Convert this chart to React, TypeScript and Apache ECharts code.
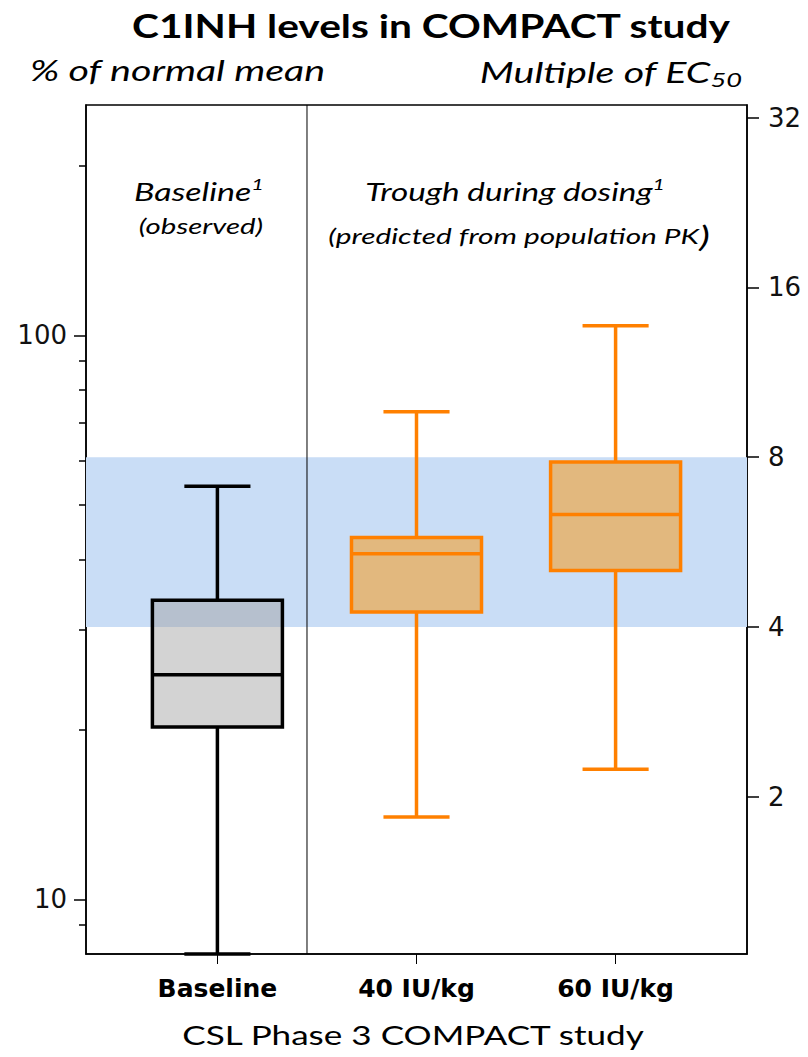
import React, { useEffect, useRef } from "react";
import * as echarts from "echarts";

// ---- data ----
const categories = ["Baseline", "40 IU/kg", "60 IU/kg"];
const categoryPositions = [1, 2, 3];
const whiskerLow = [8.0, 14.0, 17.0];
const boxLow = [20.2, 32.3, 38.3];
const medians = [25.0, 41.0, 48.1];
const boxHigh = [33.9, 43.8, 59.6];
const whiskerHigh = [54.0, 73.2, 104.0];

const leftMajorTicks = [10, 100];
const leftMinorTicks = [9, 20, 30, 40, 50, 60, 70, 80, 90, 200];
const rightTicks = [2, 4, 8, 16, 32];
const ec50Factor = 7.6; // % of normal mean per one multiple of EC50
const targetBandEC50 = [4, 8];
const leftRange = [8, 256];
const xRange = [0.34, 3.66];
const separatorAt = 1.45;

const FONT = "Lato, 'Open Sans', sans-serif";
const NUMFONT = "'DejaVu Sans', 'Open Sans', sans-serif";

function label(
  text: string,
  x: number,
  y: number,
  scaleX: number,
  align: string,
  style: any
) {
  return {
    type: "text",
    x,
    y,
    scaleX,
    style: {
      text,
      x: 0,
      y: 0,
      align,
      verticalAlign: "middle",
      fill: "#000",
      ...style,
    },
  };
}

export default function App() {
  const ref = useRef<HTMLDivElement>(null);

  useEffect(() => {
    if (!ref.current) return;
    const chart = echarts.init(ref.current, null, { renderer: "svg" });

    const boxData = categoryPositions.map((p, i) => [
      p,
      whiskerLow[i],
      boxLow[i],
      medians[i],
      boxHigh[i],
      whiskerHigh[i],
      i,
    ]);

    const supRich = (size: number) => ({
      a: { fontFamily: FONT, fontStyle: "italic", fontSize: size, lineHeight: size + 6 },
      b: {
        fontFamily: FONT,
        fontStyle: "italic",
        fontSize: Math.round(size * 0.64),
        lineHeight: Math.round(size * 0.64),
        verticalAlign: "top",
      },
    });

    const option: any = {
      animation: false,
      backgroundColor: "#fff",
      grid: {
        left: 86,
        right: 61,
        top: 105,
        bottom: 103,
        show: true,
        borderColor: "#000",
        borderWidth: 1.5,
        containLabel: false,
        outerBoundsMode: "none",
      },
      xAxis: {
        type: "value",
        min: xRange[0],
        max: xRange[1],
        splitLine: { show: false },
        axisLine: { show: true, lineStyle: { color: "#000", width: 1.5 } },
        axisTick: {
          show: true,
          customValues: categoryPositions,
          length: 10,
          lineStyle: { color: "#000", width: 1 },
        },
        axisLabel: {
          customValues: categoryPositions,
          formatter: (v: number) => categories[Math.round(v) - 1] ?? "",
          fontFamily: NUMFONT,
          fontWeight: "bold",
          fontSize: 25,
          color: "#000",
          margin: 22,
        },
      },
      yAxis: [
        {
          type: "log",
          logBase: 10,
          min: leftRange[0],
          max: leftRange[1],
          position: "left",
          splitLine: { show: false },
          axisLine: { show: true, lineStyle: { color: "#000", width: 1.5 } },
          axisTick: {
            show: true,
            customValues: leftMajorTicks,
            length: 12,
            lineStyle: { color: "#000", width: 1.5 },
          },
          axisLabel: {
            customValues: leftMajorTicks,
            fontFamily: NUMFONT,
            fontSize: 26,
            color: "#111",
            margin: 19,
          },
        },
        {
          type: "log",
          logBase: 2,
          min: leftRange[0] / ec50Factor,
          max: leftRange[1] / ec50Factor,
          position: "right",
          splitLine: { show: false },
          axisLine: { show: true, lineStyle: { color: "#000", width: 1.5 } },
          axisTick: {
            show: true,
            customValues: rightTicks,
            length: 12,
            lineStyle: { color: "#000", width: 1.5 },
          },
          axisLabel: {
            customValues: rightTicks,
            fontFamily: NUMFONT,
            fontSize: 26,
            color: "#111",
            margin: 21,
          },
        },
        {
          type: "log",
          logBase: 10,
          min: leftRange[0],
          max: leftRange[1],
          position: "left",
          splitLine: { show: false },
          axisLine: { show: false },
          axisTick: {
            show: true,
            customValues: leftMinorTicks,
            length: 7,
            lineStyle: { color: "#000", width: 1.5 },
          },
          axisLabel: { show: false },
        },
      ],
      series: [
        {
          type: "custom",
          name: "target band",
          xAxisIndex: 0,
          yAxisIndex: 1,
          clip: true,
          z: 1,
          data: [[targetBandEC50[0], targetBandEC50[1]]],
          renderItem: (params: any, api: any) => {
            const lo = api.value(0);
            const hi = api.value(1);
            const p1 = api.coord([xRange[0], hi]);
            const p2 = api.coord([xRange[1], lo]);
            return {
              type: "rect",
              shape: { x: p1[0], y: p1[1], width: p2[0] - p1[0], height: p2[1] - p1[1] },
              style: { fill: "#c9ddf6" },
            };
          },
        },
        {
          type: "custom",
          name: "separator",
          xAxisIndex: 0,
          yAxisIndex: 0,
          z: 2,
          data: [[separatorAt]],
          renderItem: (params: any, api: any) => {
            const x = api.value(0);
            const a = api.coord([x, leftRange[1]]);
            const b = api.coord([x, leftRange[0]]);
            return {
              type: "line",
              shape: { x1: a[0], y1: a[1], x2: b[0], y2: b[1] },
              style: { stroke: "#000", lineWidth: 1 },
            };
          },
        },
        {
          type: "custom",
          name: "boxes",
          xAxisIndex: 0,
          yAxisIndex: 0,
          z: 3,
          data: boxData,
          renderItem: (params: any, api: any) => {
            const x = api.value(0);
            const idx = api.value(6);
            const stroke = idx === 0 ? "#000" : "#ff8000";
            const fill = idx === 0 ? "rgba(160,160,160,0.46)" : "#e2b87e";
            const boxW = api.size([0.653, 0])[0];
            const capW = api.size([0.332, 0])[0];
            const wl = api.coord([x, api.value(1)]);
            const bl = api.coord([x, api.value(2)]);
            const md = api.coord([x, api.value(3)]);
            const bh = api.coord([x, api.value(4)]);
            const wh = api.coord([x, api.value(5)]);
            const cx = wl[0];
            const lw = 3.5;
            const line = (x1: number, y1: number, x2: number, y2: number, w: number) => ({
              type: "line",
              shape: { x1, y1, x2, y2 },
              style: { stroke, lineWidth: w },
            });
            return {
              type: "group",
              children: [
                line(cx, wh[1], cx, bh[1], 3.5),
                line(cx, bl[1], cx, wl[1], 3.5),
                line(cx - capW / 2, wh[1], cx + capW / 2, wh[1], 3.5),
                line(cx - capW / 2, wl[1], cx + capW / 2, wl[1], 3.5),
                {
                  type: "rect",
                  shape: { x: cx - boxW / 2, y: bh[1], width: boxW, height: bl[1] - bh[1] },
                  style: { fill, stroke, lineWidth: lw },
                },
                line(cx - boxW / 2, md[1], cx + boxW / 2, md[1], lw),
              ],
            };
          },
        },
      ],
      graphic: [
        label("C1INH levels in COMPACT study", 431, 26, 1.27, "center", {
          font: `bold 32px ${FONT}`,
        }),
        label("% of normal mean", 30, 70, 1.36, "left", {
          font: `italic 29px ${FONT}`,
        }),
        label("{a|Multiple of EC}{b|50}", 742, 72, 1.36, "right", {
          rich: {
            a: { fontFamily: FONT, fontStyle: "italic", fontSize: 29, lineHeight: 34 },
            b: { fontFamily: FONT, fontStyle: "italic", fontSize: 20, lineHeight: 20, verticalAlign: "bottom" },
          },
        }),
        label("{a|Baseline}{b|1}", 199, 191, 1.36, "center", { rich: supRich(25) }),
        label("(observed)", 201, 226, 1.4, "center", { font: `italic 21px ${FONT}` }),
        label("{a|Trough during dosing}{b|1}", 515, 191, 1.33, "center", { rich: supRich(25) }),
        label("{a|(predicted from population PK}{c|)}", 519, 236, 1.42, "center", {
          rich: {
            a: { fontFamily: FONT, fontStyle: "italic", fontSize: 21, lineHeight: 30 },
            c: { fontFamily: FONT, fontStyle: "italic", fontSize: 29, lineHeight: 30 },
          },
        }),
        label("CSL Phase 3 COMPACT study", 413, 1035, 1.3, "center", {
          font: `27px ${FONT}`,
        }),
      ],
    };

    chart.setOption(option);
    return () => chart.dispose();
  }, []);

  return (
    <div
      ref={ref}
      style={{ position: "absolute", left: 0, top: 0, width: 808, height: 1057 }}
    />
  );
}
